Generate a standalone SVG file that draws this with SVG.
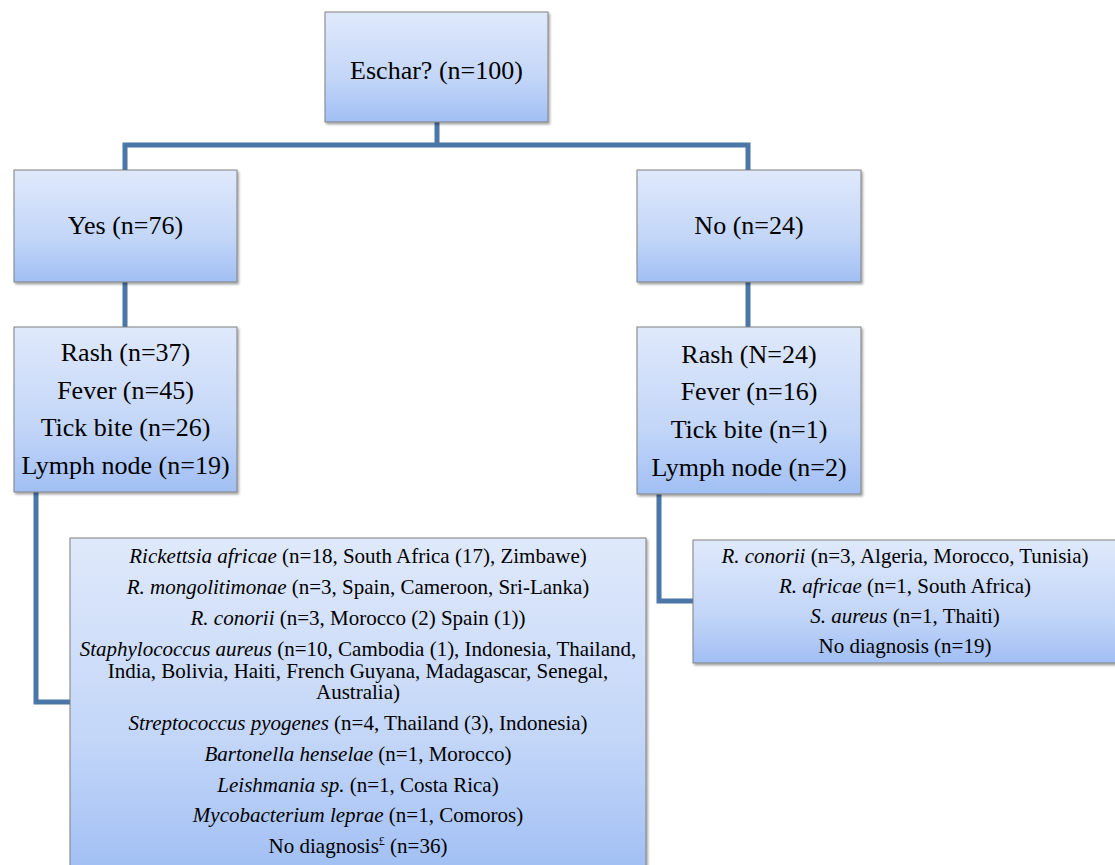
<svg xmlns="http://www.w3.org/2000/svg" width="1115" height="865" viewBox="0 0 1115 865">
<defs>
<linearGradient id="g" x1="0" y1="0" x2="0" y2="1">
<stop offset="0" stop-color="#dfe9fb"/>
<stop offset="0.6" stop-color="#c3d6f8"/>
<stop offset="1" stop-color="#a1bff4"/>
</linearGradient>
<filter id="sh" x="-10%" y="-10%" width="120%" height="130%">
<feDropShadow dx="1.5" dy="2" stdDeviation="1.2" flood-color="#000" flood-opacity="0.35"/>
</filter>
</defs>
<style>
.box{fill:url(#g);stroke:#808080;stroke-width:1;filter:url(#sh)}
text{font-family:'Liberation Serif','Times New Roman',Times,Tinos,'Noto Serif','DejaVu Serif',serif;fill:#000;text-anchor:middle}
.big{font-size:26px}
.sm{font-size:21px}
.i{font-style:italic}
.c{fill:none;stroke:#4a76a8;stroke-width:5}
</style>
<g id="connectors">
<path class="c" d="M437 122 V145"/>
<path class="c" d="M125 170 V145 H748 V170"/>
<path class="c" d="M125 282 V327"/>
<path class="c" d="M748 282 V327"/>
<path class="c" d="M36 492 V702 H70"/>
<path class="c" d="M659 494 V601 H693"/>
</g>
<g id="eschar">
<rect class="box" x="325" y="12" width="223" height="110"/>
<text class="big" x="436.5" y="79">Eschar? (n=100)</text>
</g>
<g id="yes">
<rect class="box" x="14" y="170" width="223" height="112"/>
<text class="big" x="125.5" y="234">Yes (n=76)</text>
</g>
<g id="no">
<rect class="box" x="637" y="170" width="224" height="112"/>
<text class="big" x="749" y="234">No (n=24)</text>
</g>
<g id="yes-symptoms">
<rect class="box" x="14" y="327" width="223" height="165"/>
<text class="big" x="125.5" y="361">Rash (n=37)</text>
<text class="big" x="125.5" y="399">Fever (n=45)</text>
<text class="big" x="125.5" y="436">Tick bite (n=26)</text>
<text class="big" x="125.5" y="474">Lymph node (n=19)</text>
</g>
<g id="no-symptoms">
<rect class="box" x="637" y="327" width="224" height="167"/>
<text class="big" x="749" y="363">Rash (N=24)</text>
<text class="big" x="749" y="400">Fever (n=16)</text>
<text class="big" x="749" y="438">Tick bite (n=1)</text>
<text class="big" x="749" y="476">Lymph node (n=2)</text>
</g>
<g id="yes-diagnoses">
<rect class="box" x="70" y="538" width="576" height="335"/>
<text class="sm" x="358" y="563"><tspan class="i">Rickettsia africae</tspan> (n=18, South Africa (17), Zimbawe)</text>
<text class="sm" x="358" y="594"><tspan class="i">R. mongolitimonae</tspan> (n=3, Spain, Cameroon, Sri-Lanka)</text>
<text class="sm" x="358" y="625"><tspan class="i">R. conorii</tspan> (n=3, Morocco (2) Spain (1))</text>
<text class="sm" x="358" y="656"><tspan class="i">Staphylococcus aureus</tspan> (n=10, Cambodia (1), Indonesia, Thailand,<tspan x="358" dy="21.5">India, Bolivia, Haiti, French Guyana, Madagascar, Senegal,</tspan><tspan x="358" dy="21.5">Australia)</tspan></text>
<text class="sm" x="358" y="730"><tspan class="i">Streptococcus pyogenes</tspan> (n=4, Thailand (3), Indonesia)</text>
<text class="sm" x="358" y="761"><tspan class="i">Bartonella henselae</tspan> (n=1, Morocco)</text>
<text class="sm" x="358" y="792"><tspan class="i">Leishmania sp.</tspan> (n=1, Costa Rica)</text>
<text class="sm" x="358" y="822"><tspan class="i">Mycobacterium leprae</tspan> (n=1, Comoros)</text>
<text class="sm" x="358" y="853">No diagnosis<tspan font-size="12" dy="-8">£</tspan><tspan dy="8"> (n=36)</tspan></text>
</g>
<g id="no-diagnoses">
<rect class="box" x="693" y="540" width="424" height="123"/>
<text class="sm" x="905" y="563"><tspan class="i">R. conorii</tspan> (n=3, Algeria, Morocco, Tunisia)</text>
<text class="sm" x="905" y="593"><tspan class="i">R. africae</tspan> (n=1, South Africa)</text>
<text class="sm" x="905" y="623"><tspan class="i">S. aureus</tspan> (n=1, Thaiti)</text>
<text class="sm" x="905" y="653">No diagnosis (n=19)</text>
</g>
</svg>
